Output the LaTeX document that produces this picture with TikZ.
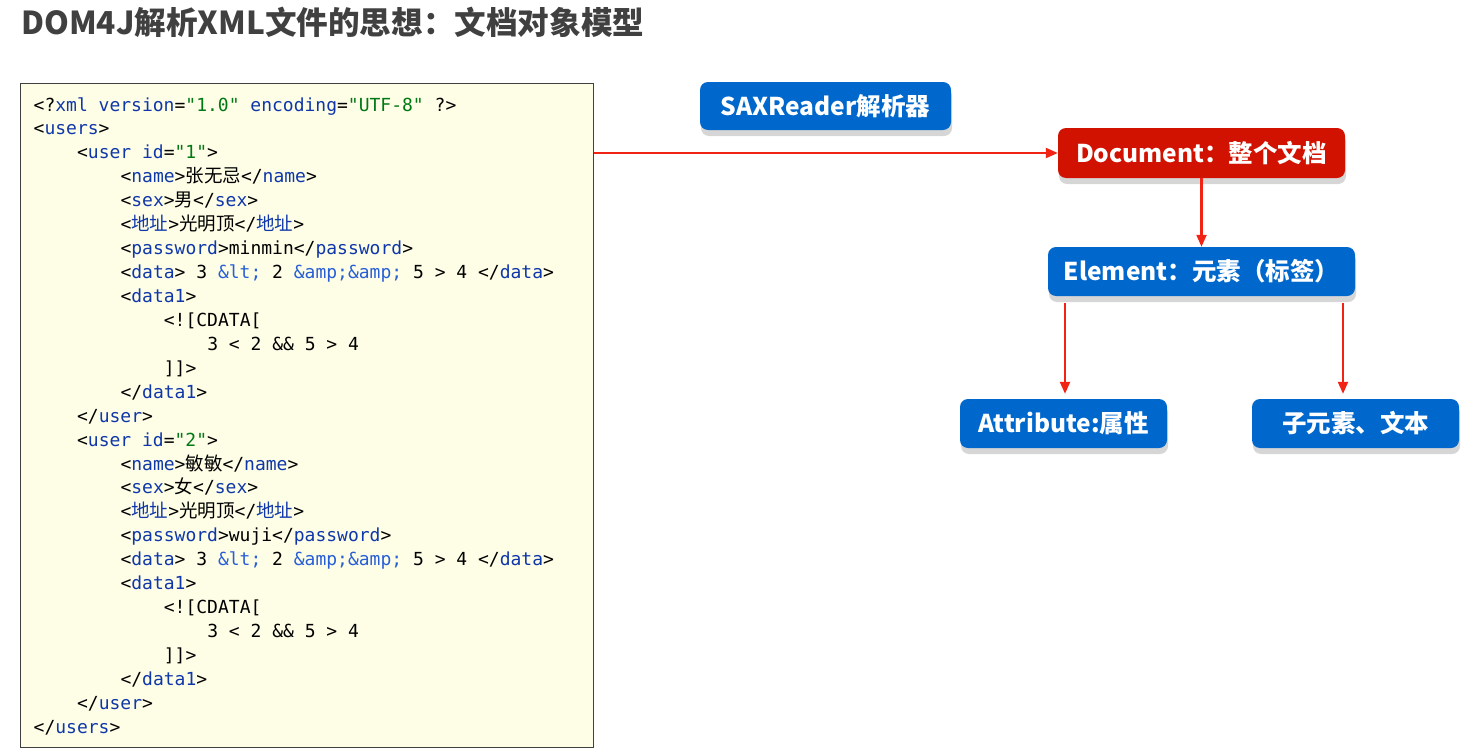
\documentclass[tikz,border=0pt]{standalone}
\usepackage{fontspec}
\usetikzlibrary{arrows.meta,shadows}
\newfontfamily\cjk{Noto Sans CJK SC}
\newfontfamily\codefont{DejaVu Sans Mono}
\definecolor{tagc}{RGB}{15,55,170}
\definecolor{entc}{RGB}{40,95,215}
\definecolor{strc}{RGB}{0,120,20}
\definecolor{boxfill}{RGB}{254,254,230}
\definecolor{nodeblue}{RGB}{0,104,204}
\definecolor{nodered}{RGB}{210,18,0}
\definecolor{arrred}{RGB}{240,35,20}
\definecolor{titlec}{RGB}{64,64,64}
\newcommand\tg[1]{\textcolor{tagc}{#1}}
\newcommand\en[1]{\textcolor{entc}{#1}}
\newcommand\st[1]{\textcolor{strc}{#1}}
\newcommand\cj[1]{{\cjk\fontsize{18.5}{20}\selectfont #1}}
\tikzset{
  codeline/.style={anchor=base west, inner sep=0pt, font=\codefont\fontsize{18}{20}\selectfont},
  box/.style={rounded corners=8pt, fill=nodeblue, text=white, inner sep=0pt,
    font=\cjk\bfseries\fontsize{24.5}{26}\selectfont,
    drop shadow={shadow xshift=1pt, shadow yshift=-6pt, fill=black!16, opacity=1}},
  link/.style={draw=arrred, line width=2.2pt, -{Triangle[length=12pt,width=10pt]}}
}
\begin{document}
\begin{tikzpicture}[x=1pt,y=-1pt]
\useasboundingbox (0,0) rectangle (1474,752);
\node[anchor=west, inner sep=0pt, text=titlec, font=\cjk\bfseries\fontsize{31.6}{34}\selectfont] (title) at (21,22) {DOM4J解析XML文件的思想：文档对象模型};
\node[draw=black!75, line width=1pt, fill=boxfill, minimum width=573pt, minimum height=664pt, inner sep=0pt] (xmlbox) at (306.5,415) {};
\def\cx{33.5}
\def\ch{10.85}
\node[codeline] (c0) at (\cx,111) {<?\tg{xml} \tg{version}=\st{"1.0"} \tg{encoding}=\st{"UTF-8"} ?>};
\node[codeline] (c1) at (\cx,134.9) {<\tg{users}>};
\node[codeline] (c2) at (\cx+4*\ch,158.9) {<\tg{user} \tg{id}=\st{"1"}>};
\node[codeline] (c3) at (\cx+8*\ch,182.8) {<\tg{name}>\cj{张无忌}</\tg{name}>};
\node[codeline] (c4) at (\cx+8*\ch,206.7) {<\tg{sex}>\cj{男}</\tg{sex}>};
\node[codeline] (c5) at (\cx+8*\ch,230.7) {<\tg{\cj{地址}}>\cj{光明顶}</\tg{\cj{地址}}>};
\node[codeline] (c6) at (\cx+8*\ch,254.6) {<\tg{password}>minmin</\tg{password}>};
\node[codeline] (c7) at (\cx+8*\ch,278.5) {<\tg{data}> 3 \en{\&lt;} 2 \en{\&amp;\&amp;} 5 > 4 </\tg{data}>};
\node[codeline] (c8) at (\cx+8*\ch,302.4) {<\tg{data1}>};
\node[codeline] (c9) at (\cx+12*\ch,326.4) {<![CDATA[};
\node[codeline] (c10) at (\cx+16*\ch,350.3) {3 < 2 \&\& 5 > 4};
\node[codeline] (c11) at (\cx+12*\ch,374.2) {]]>};
\node[codeline] (c12) at (\cx+8*\ch,398.2) {</\tg{data1}>};
\node[codeline] (c13) at (\cx+4*\ch,422.1) {</\tg{user}>};
\node[codeline] (c14) at (\cx+4*\ch,446.0) {<\tg{user} \tg{id}=\st{"2"}>};
\node[codeline] (c15) at (\cx+8*\ch,470.0) {<\tg{name}>\cj{敏敏}</\tg{name}>};
\node[codeline] (c16) at (\cx+8*\ch,493.9) {<\tg{sex}>\cj{女}</\tg{sex}>};
\node[codeline] (c17) at (\cx+8*\ch,517.8) {<\tg{\cj{地址}}>\cj{光明顶}</\tg{\cj{地址}}>};
\node[codeline] (c18) at (\cx+8*\ch,541.7) {<\tg{password}>wuji</\tg{password}>};
\node[codeline] (c19) at (\cx+8*\ch,565.7) {<\tg{data}> 3 \en{\&lt;} 2 \en{\&amp;\&amp;} 5 > 4 </\tg{data}>};
\node[codeline] (c20) at (\cx+8*\ch,589.6) {<\tg{data1}>};
\node[codeline] (c21) at (\cx+12*\ch,613.5) {<![CDATA[};
\node[codeline] (c22) at (\cx+16*\ch,637.5) {3 < 2 \&\& 5 > 4};
\node[codeline] (c23) at (\cx+12*\ch,661.4) {]]>};
\node[codeline] (c24) at (\cx+8*\ch,685.3) {</\tg{data1}>};
\node[codeline] (c25) at (\cx+4*\ch,709.3) {</\tg{user}>};
\node[codeline] (c26) at (\cx,733.2) {</\tg{users}>};
% right side
\node[box, minimum width=251pt, minimum height=48pt] (sax) at (825.5,106) {SAXReader解析器};
\node[box, fill=nodered, minimum width=287pt, minimum height=50pt] (doc) at (1201.5,153) {Document：整个文档};
\node[box, minimum width=307pt, minimum height=49pt] (elem) at (1201.5,271.5) {Element：元素（标签）};
\node[box, minimum width=207pt, minimum height=49pt] (attr) at (1063.5,423.5) {Attribute:属性};
\node[box, minimum width=207pt, minimum height=49pt] (child) at (1355.5,423.5) {子元素、文本};
% connectors
\draw[link] (xmlbox.east |- doc.west) -- (doc.west);
\draw[link] (doc.south) -- (elem.north);
\draw[link] ([xshift=-136.5pt,yshift=-7pt]elem.south) -- ([xshift=1.5pt,yshift=5pt]attr.north);
\draw[link] ([xshift=141.5pt,yshift=-7pt]elem.south) -- ([xshift=-12.5pt,yshift=5pt]child.north);
\end{tikzpicture}
\end{document}
